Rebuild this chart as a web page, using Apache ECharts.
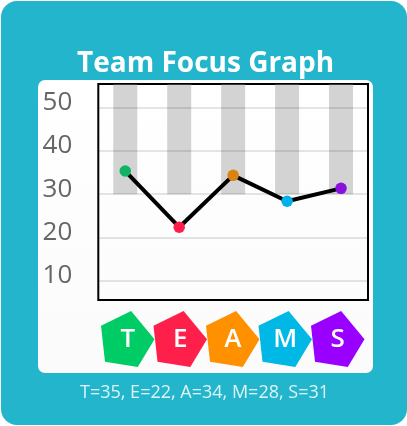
<!DOCTYPE html>
<html>
<head>
<meta charset="utf-8">
<title>Team Focus Graph</title>
<style>
  html, body { margin: 0; padding: 0; background: #fff; }
  #main { width: 407px; height: 426px; }
</style>
<script src="https://cdn.jsdelivr.net/npm/echarts@6/dist/echarts.min.js"></script>
</head>
<body>
<div id="main"></div>
<script>
var titleText = "Team Focus Graph";
var letters = ["T", "E", "A", "M", "S"];
var values = [35, 22, 34, 28, 31];
var bandBase = [30, 30, 30, 30, 30];
var bandHeight = [25.3, 25.3, 25.3, 25.3, 25.3];
var yTicks = [10, 20, 30, 40, 50];
var dotColors = ["#10b264", "#ff1f4b", "#db8310", "#00b2ea", "#8a10dc"];
var shapeColors = ["#00cc66", "#ff1f4b", "#ff9100", "#00b8e6", "#9a00ff"];

var fontName = "'Open Sans', sans-serif";

// pentagon outline, tilted like the original
var pentagon = "path://M90,0 L160,84 L110,167 L12,151 L0,44 Z";

var caption = letters.map(function (l, i) { return l + "=" + values[i]; }).join(", ");

var chart = echarts.init(document.getElementById("main"), null, { renderer: "canvas" });

chart.setOption({
  animation: false,
  title: [
    { text: titleText, left: 72, top: 45,
      textStyle: { color: "#fff", fontFamily: fontName, fontWeight: "bold", fontSize: 28 } },
    { text: caption, left: 75, top: 379,
      textStyle: { color: "#dff4f7", fontFamily: fontName, fontWeight: "normal", fontSize: 18 } }
  ],
  graphic: [
    { type: "rect", z: -10, shape: { x: 1, y: 1, width: 406, height: 424, r: 16 }, style: { fill: "#22b5cb" } },
    { type: "rect", z: -9, shape: { x: 38, y: 80, width: 335, height: 293, r: 7 },
      style: { fill: new echarts.graphic.LinearGradient(0, 0, 0, 1, [
        { offset: 0, color: "#ffffff" }, { offset: 1, color: "#fbfbfb" }
      ]) } }
  ],
  grid: [
    { left: 98.3, top: 84, width: 269.7, height: 216, show: true, borderColor: "#000", borderWidth: 2, backgroundColor: "transparent" },
    { left: 101.5, top: 310, width: 262.5, height: 58 }
  ],
  xAxis: [
    { type: "category", gridIndex: 0, data: letters, axisLine: { show: false }, axisTick: { show: false }, axisLabel: { show: false } },
    { type: "category", gridIndex: 1, data: letters, axisLine: { show: false }, axisTick: { show: false }, axisLabel: { show: false } }
  ],
  yAxis: [
    { type: "value", gridIndex: 0, min: 5.5, max: 55.5,
      axisLine: { show: false }, axisTick: { show: false },
      axisLabel: {
        margin: 26, fontSize: 26, color: "#666", fontFamily: fontName,
        verticalAlign: "bottom", lineHeight: 10,
        customValues: yTicks
      },
      splitLine: { show: false }
    },
    // the dots sit a little above the gridlines in the original
    { type: "value", gridIndex: 0, min: 5.15, max: 55.15, show: false, splitLine: { show: false } },
    { type: "value", gridIndex: 1, min: -1, max: 1, show: false, splitLine: { show: false } }
  ],
  series: [
    { type: "bar", name: "base", xAxisIndex: 0, yAxisIndex: 0, stack: "band", barWidth: 24, z: 1, silent: true,
      data: bandBase, itemStyle: { color: "transparent" } },
    { type: "bar", name: "band", xAxisIndex: 0, yAxisIndex: 0, stack: "band", barWidth: 24, z: 1, silent: true,
      data: bandHeight, itemStyle: { color: "#d3d3d3" },
      // gridlines go over the grey bands
      markLine: { silent: true, z: 2, symbol: "none", label: { show: false },
        lineStyle: { color: "rgba(0,0,0,0.1)", width: 2, type: "solid" },
        data: yTicks.map(function (t) { return { yAxis: t }; }) } },
    { type: "line", xAxisIndex: 0, yAxisIndex: 1, z: 5, symbol: "circle", symbolSize: 11.5,
      lineStyle: { color: "#000", width: 4 },
      data: values.map(function (v, i) {
        return { value: v, itemStyle: { color: dotColors[i] } };
      }) },
    { type: "scatter", xAxisIndex: 1, yAxisIndex: 2, z: 6, symbol: pentagon, symbolSize: [53.5, 56],
      label: { show: true, position: "inside", offset: [0, 1], color: "#fff", fontFamily: fontName, fontWeight: 600, fontSize: 26,
        formatter: function (p) { return p.name; } },
      data: letters.map(function (l, i) {
        return { name: l, value: [l, 0], itemStyle: { color: shapeColors[i], opacity: 1 } };
      }) }
  ]
});
</script>
</body>
</html>
